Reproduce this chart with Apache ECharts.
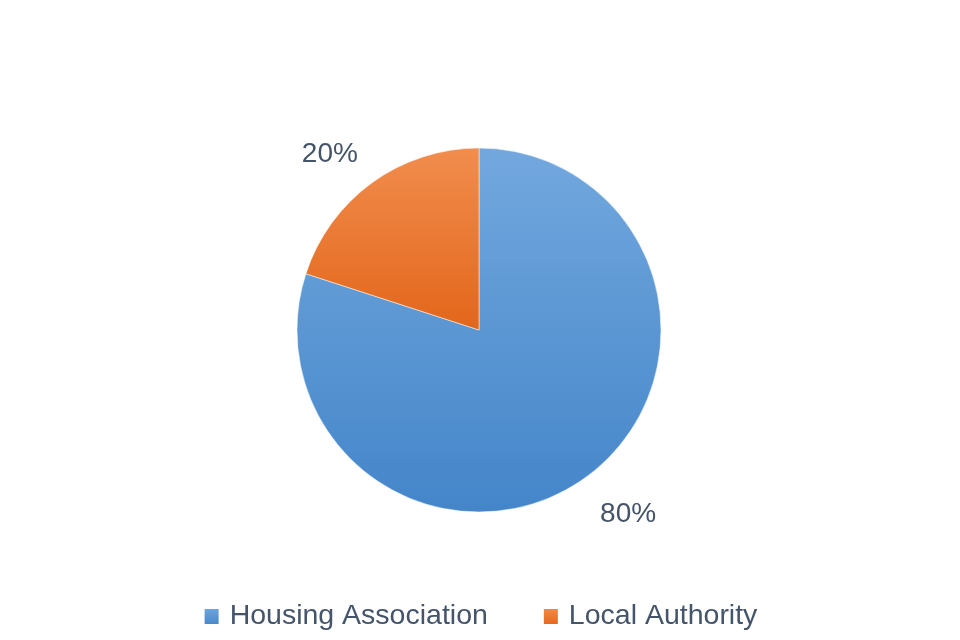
<!DOCTYPE html>
<html>
<head>
<meta charset="utf-8">
<script src="https://cdn.jsdelivr.net/npm/echarts@6/dist/echarts.min.js"></script>
<style>
  html, body { margin: 0; padding: 0; background: #fff; }
  #chart { width: 960px; height: 640px; }
</style>
</head>
<body>
<div id="chart"></div>
<script>
var categories = ['Housing Association', 'Local Authority'];
var shares = [80, 20];

var colorsTop = ['#72a8de', '#f18d4e'];
var colorsBottom = ['#4485c9', '#e3661a'];
var labelOffsets = [[11, -6], [-11, 14]];

var chart = echarts.init(document.getElementById('chart'));

function grad(i) {
  return new echarts.graphic.LinearGradient(0, 0, 0, 1, [
    { offset: 0, color: colorsTop[i] },
    { offset: 1, color: colorsBottom[i] }
  ]);
}

var pieData = categories.map(function (name, i) {
  return { name: name, value: shares[i], itemStyle: { color: grad(i) } };
});

// transparent ring used only to place the percentage labels
var labelData = categories.map(function (name, i) {
  return { name: name, value: shares[i], label: { offset: labelOffsets[i] } };
});

chart.setOption({
  backgroundColor: '#ffffff',
  animation: false,
  color: ['#5b9bd5', '#ed7d31'],
  legend: {
    top: 597,
    left: 'center',
    itemWidth: 16,
    itemHeight: 17,
    itemGap: 54,
    icon: 'rect',
    data: categories,
    textStyle: {
      fontFamily: 'Liberation Sans',
      fontSize: 28.5,
      color: '#44546a',
      padding: [0, 0, 0, 5]
    }
  },
  series: [
    {
      type: 'pie',
      center: [479, 330],
      radius: [0, 182],
      startAngle: 90,
      clockwise: true,
      label: { show: false },
      labelLine: { show: false },
      itemStyle: { borderColor: '#ffffff', borderWidth: 0.5 },
      emphasis: { disabled: true },
      data: pieData
    },
    {
      type: 'pie',
      center: [479, 330],
      radius: [200, 264],
      startAngle: 90,
      clockwise: true,
      silent: true,
      legendHoverLink: false,
      itemStyle: { color: 'rgba(0,0,0,0)' },
      label: {
        show: true,
        position: 'inside',
        formatter: function (p) { return p.value + '%'; },
        fontFamily: 'Liberation Sans',
        fontSize: 28,
        color: '#44546a'
      },
      labelLine: { show: false },
      data: labelData
    }
  ]
});
</script>
</body>
</html>
